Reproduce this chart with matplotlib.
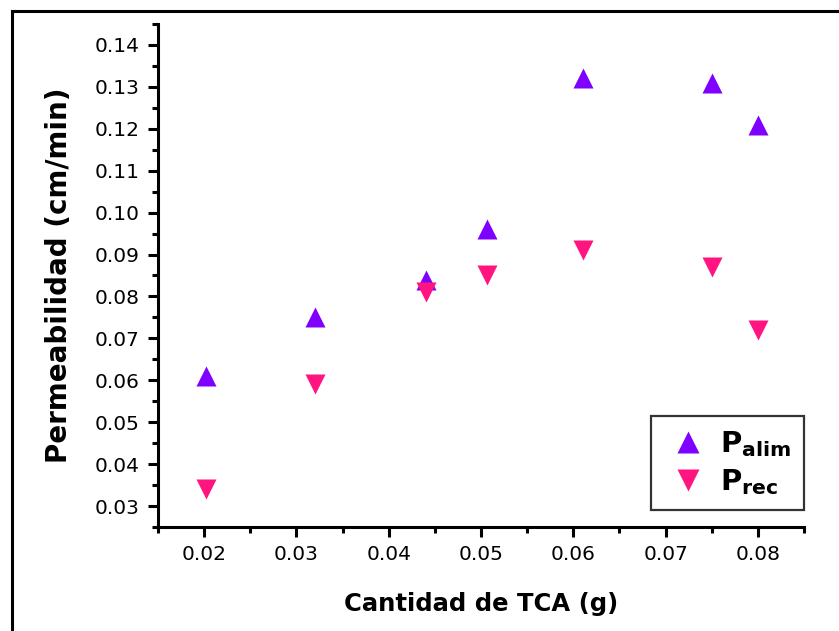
import numpy as np
import matplotlib
matplotlib.use('Agg')
import matplotlib.pyplot as plt
from matplotlib.lines import Line2D
from matplotlib.ticker import MultipleLocator

plt.rcParams['font.family'] = ['DejaVu Sans']
plt.rcParams['mathtext.fontset'] = 'custom'
plt.rcParams['mathtext.rm'] = 'DejaVu Sans'
plt.rcParams['mathtext.bf'] = 'DejaVu Sans:bold'

# datos
tca = [0.0202, 0.032, 0.044, 0.0506, 0.061, 0.075, 0.080]
p_alim = [0.061, 0.075, 0.084, 0.096, 0.132, 0.131, 0.121]
p_rec = [0.034, 0.059, 0.081, 0.085, 0.091, 0.087, 0.072]

fig = plt.figure(figsize=(8.39, 6.31), dpi=100)
ax = fig.add_axes([0.1883, 0.1648, 0.7700, 0.7972])

ax.plot(tca, p_alim, linestyle='none', marker='^', ms=14, color='#8000ff',
        mec='none', label=r'$\mathbf{P_{alim}}$')
ax.plot(tca, p_rec, linestyle='none', marker='v', ms=14, color='#ff1480',
        mec='none', label=r'$\mathbf{P_{rec}}$')

ax.set_xlim(0.015, 0.085)
ax.set_ylim(0.025, 0.145)
ax.xaxis.set_major_locator(MultipleLocator(0.01))
ax.xaxis.set_minor_locator(MultipleLocator(0.005))
ax.yaxis.set_major_locator(MultipleLocator(0.01))
ax.yaxis.set_minor_locator(MultipleLocator(0.005))
ax.xaxis.set_major_formatter(plt.FormatStrFormatter('%.2f'))
ax.yaxis.set_major_formatter(plt.FormatStrFormatter('%.2f'))

for s in ['top', 'right']:
    ax.spines[s].set_visible(False)
for s in ['left', 'bottom']:
    ax.spines[s].set_linewidth(2.2)

ax.tick_params(which='major', direction='out', length=7, width=2.2,
               labelsize=14.5, pad=6)
ax.tick_params(which='minor', direction='out', length=4, width=2.2)

ax.set_xlabel('Cantidad de TCA (g)', fontsize=17.5, fontweight='bold', labelpad=20)
ax.set_ylabel('Permeabilidad (cm/min)', fontsize=20, fontweight='bold', labelpad=16)

leg = ax.legend(loc='lower right', bbox_to_anchor=(1.0, 0.033), fontsize=21,
                frameon=True, fancybox=False, edgecolor='black',
                handletextpad=0.3, borderpad=0.45, labelspacing=0.3,
                handlelength=1.6, markerscale=1.1, borderaxespad=0)
leg.get_frame().set_linewidth(1.6)

# marco exterior
fig.add_artist(Line2D([12 / 839, 12 / 839], [0, 1 - 11 / 631],
                      transform=fig.transFigure, color='black', lw=2.2))
fig.add_artist(Line2D([12 / 839, 1], [1 - 11 / 631, 1 - 11 / 631],
                      transform=fig.transFigure, color='black', lw=2.2))

fig.savefig('out.png', dpi=100, facecolor='white')
